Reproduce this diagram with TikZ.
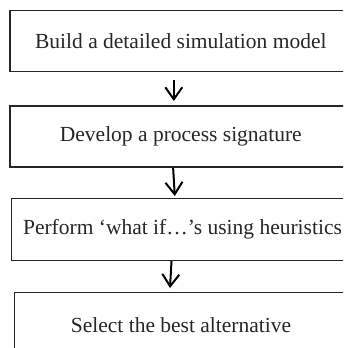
\documentclass[tikz,border=0pt]{standalone}
\usepackage{fontspec}
\setmainfont{Liberation Serif}
\usetikzlibrary{arrows.meta}
\tikzset{
  box/.style={draw=black!85, line width=1.6pt, minimum width=342pt, minimum height=61pt, inner sep=0pt, anchor=north west, font=\fontsize{21.5}{25}\selectfont, text=black!85},
  arr/.style={draw=black, line width=2pt, -{Straight Barb[length=12pt,width=17pt,line width=2pt]}}
}
\begin{document}
\begin{tikzpicture}[x=1pt,y=1pt]
\useasboundingbox (0,0) rectangle (343,-348);
\clip (0,0) rectangle (343,-348);
\node[box] (b1) at (9,-9.5) {Build a detailed simulation model};
\node[box] (b2) at (9,-105) {Develop a process signature};
\node[box, minimum height=62pt] (b3) at (10.7,-197.5) {Perform ‘what if…’s using heuristics};
\node[box, minimum width=333pt, minimum height=66pt] (b4) at (13.7,-291.5) {Select the best alternative};
\draw[arr] ([xshift=-7pt,yshift=-8pt]b1.south) -- ([xshift=-7pt,yshift=4pt]b2.north);
\draw[arr] ([xshift=-7.7pt]b2.south) -- ([xshift=-7.7pt,yshift=1.5pt]b3.north);
\draw[arr] ([xshift=-11pt]b3.south) -- ([xshift=-11pt,yshift=3.5pt]b4.north);
\end{tikzpicture}
\end{document}
